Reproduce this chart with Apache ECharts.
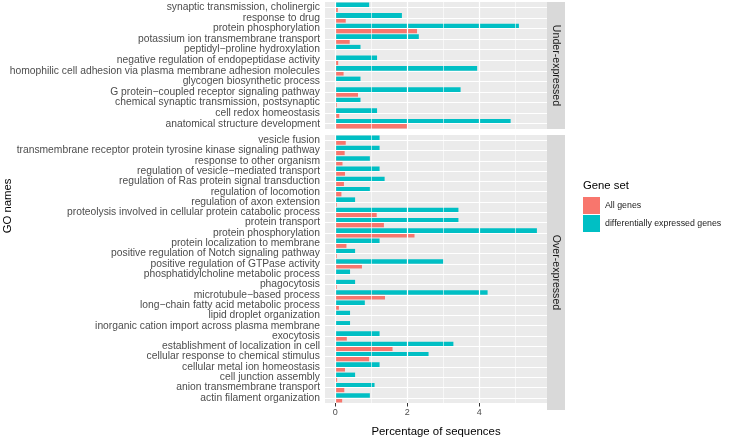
<!DOCTYPE html>
<html><head><meta charset="utf-8">
<script src="https://cdn.jsdelivr.net/npm/echarts@6/dist/echarts.min.js"></script>
<style>html,body{margin:0;padding:0;background:#fff}#c{width:730px;height:442px}</style>
</head><body><div id="c"></div>
<script>
// ---- data (bottom-to-top order, alphabetical as in the source) ----
const underCats = ["anatomical structure development","cell redox homeostasis","chemical synaptic transmission, postsynaptic","G protein\u2212coupled receptor signaling pathway","glycogen biosynthetic process","homophilic cell adhesion via plasma membrane adhesion molecules","negative regulation of endopeptidase activity","peptidyl\u2212proline hydroxylation","potassium ion transmembrane transport","protein phosphorylation","response to drug","synaptic transmission, cholinergic"];
const underAll = [2.02,0.11,0.04,0.63,0.02,0.23,0.08,0.01,0.40,2.27,0.29,0.07];
const underDE  = [4.87,1.16,0.70,3.48,0.70,3.94,1.16,0.70,2.32,5.10,1.85,0.94];

const overCats = ["actin filament organization","anion transmembrane transport","cell junction assembly","cellular metal ion homeostasis","cellular response to chemical stimulus","establishment of localization in cell","exocytosis","inorganic cation import across plasma membrane","lipid droplet organization","long\u2212chain fatty acid metabolic process","microtubule\u2212based process","phagocytosis","phosphatidylcholine metabolic process","positive regulation of GTPase activity","positive regulation of Notch signaling pathway","protein localization to membrane","protein phosphorylation","protein transport","proteolysis involved in cellular protein catabolic process","regulation of axon extension","regulation of locomotion","regulation of Ras protein signal transduction","regulation of vesicle\u2212mediated transport","response to other organism","transmembrane receptor protein tyrosine kinase signaling pathway","vesicle fusion"];
const overAll = [0.19,0.25,0.05,0.27,0.94,1.59,0.32,0.01,0.01,0.10,1.38,0.04,0.01,0.74,0.04,0.31,2.20,1.35,1.15,0.04,0.17,0.24,0.27,0.20,0.26,0.29];
const overDE  = [0.96,1.09,0.55,1.23,2.59,3.28,1.23,0.41,0.41,0.82,4.23,0.55,0.41,3.00,0.55,1.23,5.60,3.42,3.42,0.55,0.96,1.37,1.23,0.96,1.23,1.23];

const xTicks = [0, 2, 4];
const xMinor = [1, 3, 5];
const facetNames = ["Under-expressed", "Over-expressed"];
const seriesNames = ["All genes", "differentially expressed genes"];
const colors = ["#F8766D", "#00BFC4"];

const FONT = "Liberation Sans, Arial, Helvetica, sans-serif";
const X_MIN = -0.286, X_MAX = 5.88;

const chart = echarts.init(document.getElementById('c'), null, {renderer: 'canvas'});

const panels = [
  {top: 2, height: 127, cats: underCats, all: underAll, de: underDE},
  {top: 135, height: 275, cats: overCats, all: overAll, de: overDE}
];

const grids = [], xAxes = [], yAxes = [], series = [];
panels.forEach((p, i) => {
  grids.push({left: 325, width: 222, top: p.top, height: p.height, show: true,
    backgroundColor: '#EBEBEB', borderWidth: 0, containLabel: false});
  const isBottom = i === panels.length - 1;
  xAxes.push({
    type: 'value', gridIndex: i, min: X_MIN, max: X_MAX,
    splitLine: {show: false}, axisLine: {show: false},
    axisTick: {show: isBottom, customValues: xTicks, length: 3.5, lineStyle: {color: '#333333', width: 1}},
    axisLabel: {show: isBottom, customValues: xTicks, fontSize: 9, color: '#4D4D4D', margin: 5, fontFamily: FONT},
    name: isBottom ? 'Percentage of sequences' : '', nameLocation: 'middle', nameGap: 23,
    nameTextStyle: {fontSize: 11.4, color: '#000', fontFamily: FONT}
  });
  yAxes.push({
    type: 'category', gridIndex: i, data: p.cats,
    axisLine: {show: false},
    axisTick: {show: true, alignWithLabel: true, length: 3, lineStyle: {color: '#333333', width: 1}},
    axisLabel: {interval: 0, fontSize: 10.3, color: '#4D4D4D', margin: 5, fontFamily: FONT},
    splitLine: {show: false}
  });
  // grid lines (drawn through the axes' scales), under the bars
  series.push({
    type: 'line', xAxisIndex: i, yAxisIndex: i, data: [], z: 1, silent: true,
    markLine: {
      silent: true, symbol: 'none', label: {show: false}, animation: false,
      data: [
        ...xMinor.map(v => ({xAxis: v, lineStyle: {color: '#FFFFFF', width: 0.6, type: 'solid'}})),
        ...xTicks.map(v => ({xAxis: v, lineStyle: {color: '#FFFFFF', width: 1.2, type: 'solid'}})),
        ...p.cats.map(c => ({yAxis: c, lineStyle: {color: '#FFFFFF', width: 1.2, type: 'solid'}}))
      ]
    }
  });
  // DE series first so it sits above the "All genes" bar within each band
  series.push({
    name: seriesNames[1], type: 'bar', xAxisIndex: i, yAxisIndex: i, data: p.de,
    barWidth: '45%', barGap: '0%', itemStyle: {color: colors[1]}, z: 3, animation: false
  });
  series.push({
    name: seriesNames[0], type: 'bar', xAxisIndex: i, yAxisIndex: i, data: p.all,
    barWidth: '45%', barGap: '0%', itemStyle: {color: colors[0]}, z: 3, animation: false
  });
});

const graphics = [];
panels.forEach((p, i) => {
  graphics.push({type: 'rect', left: 547, top: p.top, shape: {width: 18, height: p.height},
    style: {fill: '#D9D9D9'}, silent: true});
  graphics.push({type: 'text', x: 556, y: p.top + p.height / 2, rotation: -Math.PI / 2,
    style: {text: facetNames[i], fontSize: 10.6, fill: '#1A1A1A', fontFamily: FONT,
      align: 'center', verticalAlign: 'middle'}, silent: true});
});
graphics.push({type: 'text', x: 8, y: 206, rotation: Math.PI / 2,
  style: {text: 'GO names', fontSize: 11.3, fill: '#000', fontFamily: FONT,
    align: 'center', verticalAlign: 'middle'}});
graphics.push({type: 'text', x: 583, y: 186,
  style: {text: 'Gene set', fontSize: 11.3, fill: '#000', fontFamily: FONT,
    align: 'left', verticalAlign: 'middle'}});

chart.setOption({
  animation: false,
  backgroundColor: '#FFFFFF',
  textStyle: {fontFamily: FONT},
  grid: grids, xAxis: xAxes, yAxis: yAxes, series: series,
  legend: {
    data: seriesNames, orient: 'vertical', left: 583, top: 197, padding: 0,
    itemWidth: 17, itemHeight: 17, itemGap: 1, icon: 'rect', selectedMode: false,
    textStyle: {fontSize: 8.8, color: '#1A1A1A', fontFamily: FONT}
  },
  graphic: graphics
});
</script></body></html>
